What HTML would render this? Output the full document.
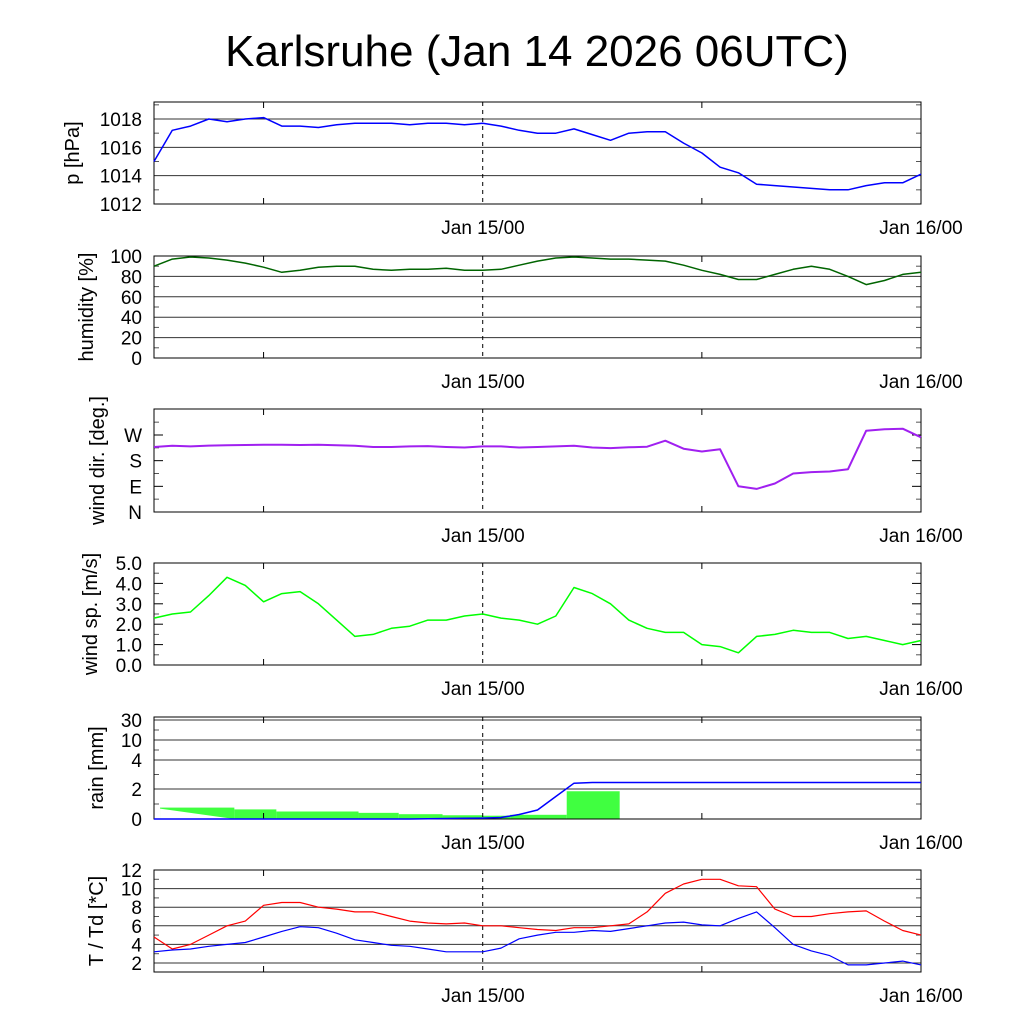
<!DOCTYPE html>
<html><head><meta charset="utf-8"><style>
body{margin:0;background:#fff}
svg text{font-family:"Liberation Sans",sans-serif;fill:#000}
</style></head><body>
<svg id="c" width="1024" height="1024" viewBox="0 0 1024 1024" xmlns="http://www.w3.org/2000/svg">
<text x="537" y="66" font-size="44" text-anchor="middle">Karlsruhe (Jan 14 2026 06UTC)</text>
</svg>
<script>
const hours=[0,1,2,3,4,5,6,7,8,9,10,11,12,13,14,15,16,17,18,19,20,21,22,23,24,25,26,27,28,29,30,31,32,33,34,35,36,37,38,39,40,41,42];
const pressure=[1015.0,1017.2,1017.5,1018.0,1017.8,1018.0,1018.1,1017.5,1017.5,1017.4,1017.6,1017.7,1017.7,1017.7,1017.6,1017.7,1017.7,1017.6,1017.7,1017.5,1017.2,1017.0,1017.0,1017.3,1016.9,1016.5,1017.0,1017.1,1017.1,1016.3,1015.6,1014.6,1014.2,1013.4,1013.3,1013.2,1013.1,1013.0,1013.0,1013.3,1013.5,1013.5,1014.1];
const humidity=[90,97,99,98,96,93,89,84,86,89,90,90,87,86,87,87,88,86,86,87,91,95,98,99,98,97,97,96,95,91,86,82,77,77,82,87,90,87,80,72,76,82,84];
const windDir=[228,232,230,233,234,235,236,236,235,236,234,232,228,228,230,231,228,226,230,230,226,228,230,232,226,224,227,229,250,222,212,220,90,81,100,135,140,142,150,285,290,292,262];
const windSp=[2.3,2.5,2.6,3.4,4.3,3.9,3.1,3.5,3.6,3.0,2.2,1.4,1.5,1.8,1.9,2.2,2.2,2.4,2.5,2.3,2.2,2.0,2.4,3.8,3.5,3.0,2.2,1.8,1.6,1.6,1.0,0.9,0.6,1.4,1.5,1.7,1.6,1.6,1.3,1.4,1.2,1.0,1.2];
const rainAcc=[0,0,0,0,0,0,0,0,0,0,0,0,0,0,0,0.02,0.03,0.05,0.06,0.1,0.3,0.6,1.5,2.4,2.45,2.45,2.45,2.45,2.45,2.45,2.45,2.45,2.45,2.45,2.45,2.45,2.45,2.45,2.45,2.45,2.45,2.45,2.45];
const rainStart=[0.33,4.4,6.7,11.2,13.4,15.8,18,19.5,22.6,27];
const rainEnd=[4.4,6.7,11.2,13.4,15.8,18,19.5,22.6,25.5,28.5];
const rainVal=[0.76,0.64,0.5,0.41,0.32,0.25,0.22,0.28,1.85,0.03];
const temp=[4.8,3.5,4.0,5.0,6.0,6.5,8.2,8.5,8.5,8.0,7.8,7.5,7.5,7.0,6.5,6.3,6.2,6.3,6.0,6.0,5.8,5.6,5.5,5.8,5.8,6.0,6.2,7.5,9.5,10.5,11.0,11.0,10.3,10.2,7.8,7.0,7.0,7.3,7.5,7.6,6.5,5.5,5.0];
const dew=[3.2,3.4,3.5,3.8,4.0,4.2,4.8,5.4,5.9,5.8,5.2,4.5,4.2,3.9,3.8,3.5,3.2,3.2,3.2,3.6,4.6,5.0,5.3,5.3,5.5,5.4,5.7,6.0,6.3,6.4,6.1,6.0,6.8,7.5,5.8,4.0,3.3,2.8,1.8,1.8,2.0,2.2,1.8];

const svg=document.getElementById('c');
const NS='http://www.w3.org/2000/svg';
const L=154,R=921;
const xS=h=>L+(R-L)*h/42;
function mk(tag,attrs,parent){const e=document.createElementNS(NS,tag);for(const k in attrs)e.setAttribute(k,attrs[k]);(parent||svg).appendChild(e);return e;}
function line(x1,y1,x2,y2,extra){return mk('line',Object.assign({x1,y1,x2,y2,stroke:'#000','stroke-width':1},extra||{}));}
function text(x,y,s,anchor,size){const t=mk('text',{x,y,'font-size':size||19,'text-anchor':anchor||'end'});t.textContent=s;return t;}

function panel(name,top,bot,yfn,major,labels,minor,grid,ylabel,lx){
  const g=mk('g',{});
  
  
  major.forEach((v,i)=>{const y=yfn(v);
    if(grid){line(L,y,R,y,{stroke:'#333'});}
    else{line(L,y,L+9,y);line(R-9,y,R,y);}
    const t=text(142,y+7,labels[i]);
    
    
  });
  minor.forEach(v=>{const y=yfn(v);line(L,y,L+5,y,{stroke:'#555'});line(R-5,y,R,y,{stroke:'#555'});});
  [6,30].forEach(h=>{const x=xS(h);line(x,bot,x,bot-6);line(x,top,x,top+6);});
  line(xS(18),top,xS(18),bot,{'stroke-dasharray':'4,4'});
  const f=mk('rect',{x:L,y:top,width:R-L,height:bot-top,fill:'none',stroke:'#000','stroke-width':1});
  
  
  const a=text(483,bot+30,'Jan 15/00','middle');
  
  
  const b=text(921,bot+30,'Jan 16/00','middle');
  
  
  const cy=(top+bot)/2;
  const yl=mk('text',{x:0,y:0,'font-size':20,'text-anchor':'middle',transform:`translate(${lx},${cy}) rotate(-90)`});
  yl.textContent=ylabel;
  
  
}
function series(name,vals,yfn,color,w){
  const pts=vals.map((v,i)=>xS(hours[i]).toFixed(1)+','+yfn(v).toFixed(1)).join(' ');
  const p=mk('polyline',{points:pts,fill:'none',stroke:color,'stroke-width':w||1.5,'stroke-linejoin':'round'});
  
  
}
function lin(top,bot,vmin,vmax){return v=>bot-(v-vmin)/(vmax-vmin)*(bot-top);}

const yP=v=>204-(v-1012)*(204-119)/6;
panel('pressure',102,204,yP,[1012,1014,1016,1018],['1012','1014','1016','1018'],[1013,1015,1017,1019],true,'p [hPa]',79);
series('pressure-line',pressure,yP,'#0000ff');
const yH=lin(256,358,0,100);
panel('humidity',256,358,yH,[0,20,40,60,80,100],['0','20','40','60','80','100'],[10,30,50,70,90],true,'humidity [%]',93);
series('humidity-line',humidity,yH,'#006400');
const yD=v=>512-v*(512-435)/270;
panel('wind-direction',409,512,yD,[0,90,180,270],['N','E','S','W'],[45,135,225,315],false,'wind dir. [deg.]',104);
series('wind-direction-line',windDir,yD,'#a020f0',2);
const yW=lin(563,665,0,5);
panel('wind-speed',563,665,yW,[0,1,2,3,4,5],['0.0','1.0','2.0','3.0','4.0','5.0'],[0.5,1.5,2.5,3.5,4.5],false,'wind sp. [m/s]',97);
series('wind-speed-line',windSp,yW,'#00ff00');
const rv=[0,2,4,10,30],ry=[819,789,760,740,720];
const yR=v=>{for(let i=1;i<rv.length;i++){if(v<=rv[i])return ry[i-1]+(v-rv[i-1])/(rv[i]-rv[i-1])*(ry[i]-ry[i-1]);}return 720;};
rainVal.forEach((v,i)=>{
  const r=mk('rect',{x:xS(rainStart[i]),y:yR(v),width:xS(rainEnd[i])-xS(rainStart[i]),height:819-yR(v),fill:'#40ff40'});
  
  
});
mk('polygon',{points:`${xS(rainStart[0])},${yR(rainVal[0])+1} ${xS(rainEnd[0])},819 ${xS(rainStart[0])},819`,fill:'#fff'});
panel('rain',717,819,yR,[0,2,4,10,30],['0','2','4','10','30'],[1,3,7,20],true,'rain [mm]',103);
series('rain-accumulated-line',rainAcc,yR,'#0000ff');
const yT2=v=>963-(v-2)*(963-870)/10;
panel('temperature',870,972,yT2,[2,4,6,8,10,12],['2','4','6','8','10','12'],[3,5,7,9,11],true,'T / Td [*C]',103);
series('temperature-line',temp,yT2,'#ff0000',1.2);
series('dewpoint-line',dew,yT2,'#0000ff',1.2);
</script>
</body></html>
